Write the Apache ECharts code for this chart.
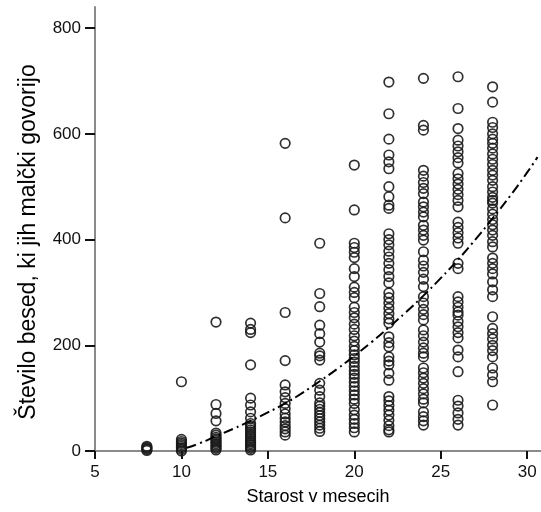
<!DOCTYPE html>
<html>
<head>
<meta charset="utf-8">
<script src="https://cdn.jsdelivr.net/npm/echarts@6/dist/echarts.min.js"></script>
<style>html,body{margin:0;padding:0;background:#fff}#chart{width:541px;height:512px}</style>
</head>
<body>
<div id="chart"></div>
<script>
// Age in months (x) and number of words spoken (y) for each age group
const ages = [8, 10, 12, 14, 16, 18, 20, 22, 24, 26, 28];
const words8 = [1, 3, 5, 7, 9];
const words10 = [0, 3, 6, 9, 12, 15, 18, 22, 131];
const words12 = [2, 5, 8, 11, 14, 17, 20, 23, 26, 30, 34, 57, 71, 88, 244];
const words14 = [2, 5, 8, 11, 14, 17, 20, 24, 28, 32, 36, 40, 44, 48, 52, 62, 74, 87, 100, 163, 224, 230, 242];
const words16 = [30, 36, 42, 48, 55, 62, 70, 80, 90, 101, 112, 125, 171, 262, 441, 582];
const words18 = [37, 43, 49, 55, 61, 67, 73, 79, 85, 91, 103, 115, 128, 172, 180, 185, 206, 222, 238, 273, 298, 393];
const words20 = [36, 44, 52, 60, 68, 78, 90, 98, 106, 114, 122, 130, 138, 145, 152, 160, 168, 175, 182, 190, 198, 208, 218, 230, 240, 252, 262, 272, 290, 300, 310, 330, 345, 366, 376, 385, 393, 456, 541];
const words22 = [36, 40, 48, 58, 68, 77, 86, 95, 103, 134, 147, 163, 170, 178, 197, 205, 216, 242, 250, 260, 270, 280, 290, 299, 318, 330, 343, 355, 367, 378, 390, 400, 411, 459, 465, 481, 500, 534, 547, 560, 590, 638, 698];
const words24 = [49, 57, 65, 74, 91, 98, 108, 118, 128, 138, 148, 157, 178, 185, 195, 206, 218, 229, 248, 258, 268, 280, 292, 311, 325, 338, 350, 361, 377, 399, 408, 418, 427, 443, 452, 462, 471, 487, 497, 508, 520, 531, 607, 616, 705];
const words26 = [49, 60, 72, 85, 96, 150, 178, 191, 214, 224, 235, 245, 257, 263, 272, 282, 292, 345, 355, 393, 403, 413, 423, 433, 462, 474, 485, 495, 505, 515, 525, 545, 555, 566, 577, 588, 610, 648, 708];
const words28 = [87, 131, 144, 157, 178, 190, 200, 212, 222, 232, 254, 292, 305, 320, 335, 345, 355, 365, 386, 396, 408, 418, 428, 438, 448, 458, 469, 474, 480, 490, 500, 512, 522, 531, 542, 552, 562, 573, 582, 590, 600, 612, 622, 660, 689];
const wordsByAge = [words8, words10, words12, words14, words16, words18, words20, words22, words24, words26, words28];

// Fitted trend (dash-dot)
const fitX = [10.3, 11, 12, 13, 14, 15, 16, 17, 18, 19, 20, 21, 22, 23, 24, 25, 26, 27, 28, 29, 30, 30.6];
const fitY = [6, 14, 28, 42, 57, 73, 90, 110, 132, 155, 180, 206, 234, 263, 294, 327, 362, 400, 440, 482, 527, 556];

const xTicks = [5, 10, 15, 20, 25, 30];
const yTicks = [0, 200, 400, 600, 800];

const points = [];
ages.forEach((a, i) => wordsByAge[i].forEach(v => points.push([a, v])));
const fitLine = fitX.map((x, i) => [x, fitY[i]]);

const font = 'Liberation Sans, Arial, sans-serif';
const chart = echarts.init(document.getElementById('chart'), null, {renderer: 'canvas'});
chart.setOption({
  animation: false,
  backgroundColor: '#fff',
  grid: {left: 95, top: 7, right: 0, bottom: 61, containLabel: false},
  xAxis: {
    type: 'value', min: 5, max: 30.8,
    name: 'Starost v mesecih', nameLocation: 'middle', nameGap: 37,
    nameTextStyle: {fontFamily: font, fontSize: 18, color: '#000'},
    splitLine: {show: false},
    axisLine: {show: true, lineStyle: {color: '#8a8a8a', width: 2}},
    axisTick: {show: true, customValues: xTicks, length: 8, lineStyle: {color: '#111', width: 2}},
    axisLabel: {customValues: xTicks, fontFamily: font, fontSize: 17, color: '#111', margin: 13}
  },
  yAxis: {
    type: 'value', min: 0, max: 840,
    name: 'Število besed, ki jih malčki govorijo', nameLocation: 'middle', nameGap: 55,
    nameTextStyle: {fontFamily: font, fontSize: 23, color: '#000', padding: [0, 26, 0, 0]},
    splitLine: {show: false},
    axisLine: {show: true, onZero: false, lineStyle: {color: '#8a8a8a', width: 2}},
    axisTick: {show: true, customValues: yTicks, length: 10, lineStyle: {color: '#111', width: 2}},
    axisLabel: {customValues: yTicks, fontFamily: font, fontSize: 17, color: '#111', margin: 14}
  },
  series: [
    {
      type: 'scatter', data: points, symbol: 'circle', symbolSize: 9.5,
      itemStyle: {color: 'rgba(255,255,255,0)', borderColor: '#1a1a1a', borderWidth: 1.7, opacity: 0.9}
    },
    {
      type: 'line', data: fitLine, showSymbol: false, symbol: 'none', smooth: true,
      lineStyle: {color: '#000', width: 2, type: [10, 4, 2, 4]}, z: 3
    }
  ]
});
</script>
</body>
</html>
